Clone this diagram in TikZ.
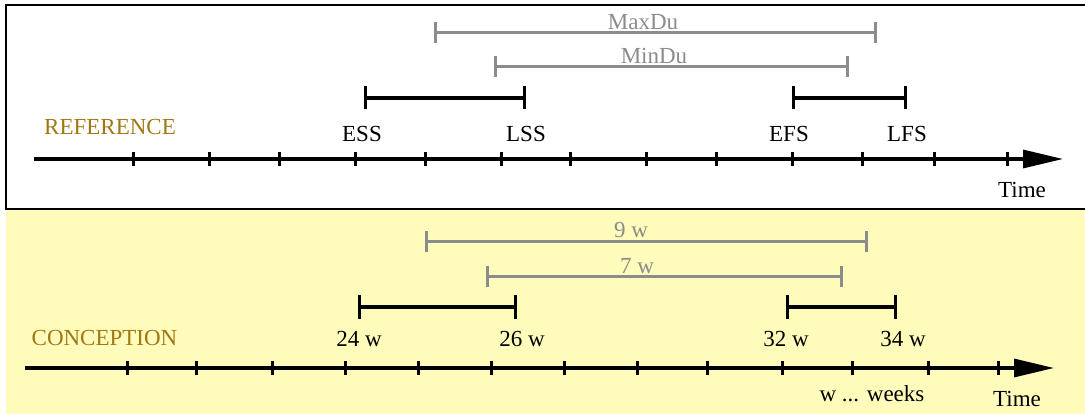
\documentclass[tikz,border=0pt]{standalone}
\usepackage{fontspec}
\setmainfont{Liberation Serif}
\usetikzlibrary{arrows.meta}
\definecolor{panelyellow}{RGB}{255,252,187}
\definecolor{labelgold}{RGB}{160,120,20}
\definecolor{bargray}{RGB}{140,140,140}
\begin{document}
\begin{tikzpicture}[x=1pt,y=-1pt,
  txt/.style={font=\fontsize{23}{27}\selectfont, inner sep=0pt, anchor=base},
  gold/.style={txt, text=labelgold},
  graytxt/.style={txt, text=bargray},
  axisline/.style={line width=3.2pt,-{Triangle[length=40pt,width=18pt]}},
  tickmark/.style={line width=3pt},
  spanbar/.style={line width=3.2pt,{Bar[width=23pt]}-{Bar[width=23pt]}},
  durbar/.style={draw=bargray,line width=3pt,{Bar[width=21pt]}-{Bar[width=21pt]}},
]
\useasboundingbox (0,0) rectangle (1085,414);
\fill[panelyellow] (6,209) rectangle (1090,420);
\draw[line width=2pt] (6,5) rectangle (1090,209);

% ---------- top panel ----------
\coordinate (tA) at (34,159);
\coordinate (tB) at (1063,159);
\draw[axisline] (tA) -- (tB);
\foreach \x in {133,209,279,355,425,501,570,646,716,792,862,934,1007}
  \draw[tickmark] (\x,152) -- (\x,166);

\coordinate (maxL) at (434,33);  \coordinate (maxR) at (877,33);
\coordinate (minL) at (494,67);  \coordinate (minR) at (849,67);
\coordinate (ssL) at (364,98);   \coordinate (ssR) at (526,98);
\coordinate (fsL) at (792,98);   \coordinate (fsR) at (907,98);
\draw[durbar] (maxL) -- (maxR);
\draw[durbar] (minL) -- (minR);
\draw[spanbar] (ssL) -- (ssR);
\draw[spanbar] (fsL) -- (fsR);

\node[graytxt] (maxdu) at (643,30) {MaxDu};
\node[graytxt] (mindu) at (654,64) {MinDu};
\node[gold] (ref) at (110,135) {REFERENCE};
\node[txt] (ess) at (362,141.7) {ESS};
\node[txt] (lss) at (526,141.7) {LSS};
\node[txt] (efs) at (789,141.7) {EFS};
\node[txt] (lfs) at (907,141.7) {LFS};
\node[txt] (time1) at (1022,198) {Time};

% ---------- bottom panel ----------
\coordinate (bA) at (25,368);
\coordinate (bB) at (1054,368);
\draw[axisline] (bA) -- (bB);
\foreach \x in {127,196,272,345,418,491,564,637,707,782,852,928,998}
  \draw[tickmark] (\x,361) -- (\x,375);

\coordinate (nineL) at (425,242);  \coordinate (nineR) at (868,242);
\coordinate (sevenL) at (486,277); \coordinate (sevenR) at (843,277);
\coordinate (sL) at (358,307);     \coordinate (sR) at (517,307);
\coordinate (fL) at (786,307);     \coordinate (fR) at (897,307);
\draw[durbar] (nineL) -- (nineR);
\draw[durbar] (sevenL) -- (sevenR);
\draw[spanbar] (sL) -- (sR);
\draw[spanbar] (fL) -- (fR);

\node[graytxt] (nine) at (631,238) {9 w};
\node[graytxt] (seven) at (637,273) {7 w};
\node[gold] (conc) at (104.5,345) {CONCEPTION};
\node[txt] (w24) at (359,346.5) {24 w};
\node[txt] (w26) at (522,346.5) {26 w};
\node[txt] (w32) at (786,346.5) {32 w};
\node[txt] (w34) at (903,346.5) {34 w};
\node[txt] (weeks) at (872,401.5) {w ... weeks};
\node[txt] (time2) at (1017,406.5) {Time};
\end{tikzpicture}
\end{document}
